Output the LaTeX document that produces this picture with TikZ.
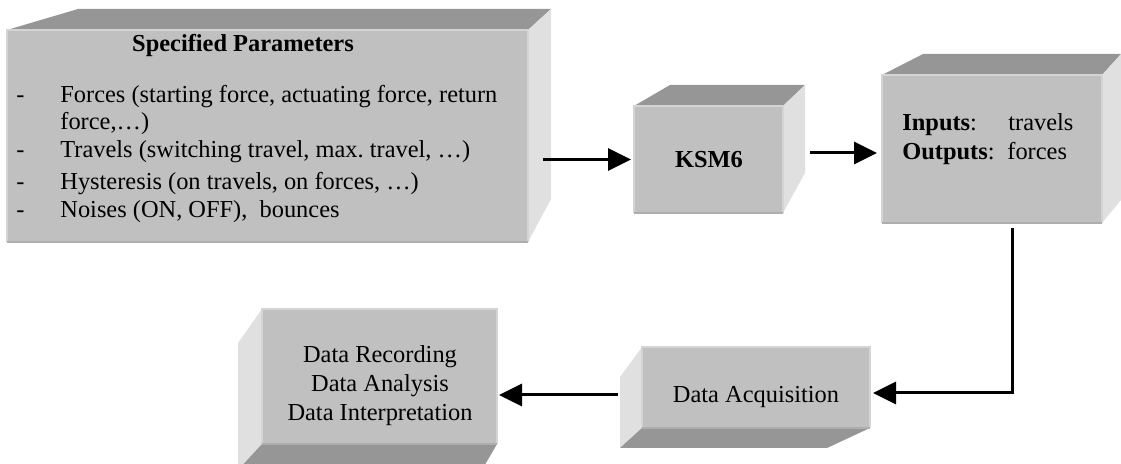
\documentclass[tikz,border=0pt]{standalone}
\usepackage{fontspec}
\setmainfont{Liberation Serif}
\usetikzlibrary{arrows.meta,calc}
\definecolor{frontgray}{RGB}{192,192,192}
\definecolor{topgray}{RGB}{150,150,150}
\definecolor{sidegray}{RGB}{224,224,224}
\definecolor{rimlight}{RGB}{212,212,212}
\definecolor{rimdark}{RGB}{174,174,174}
\newcommand{\boxfont}{\fontsize{12.2}{14.5}\selectfont}

\tikzset{
	front/.style={fill=frontgray,inner sep=0pt,outer sep=0pt,anchor=north west},
	topface/.style={fill=topgray},
	sideface/.style={fill=sidegray},
	rimup/.style={draw=rimlight,line width=0.75pt},
	rimdown/.style={draw=rimdark,line width=0.75pt},
	txt/.style={inner sep=0pt,font=\boxfont},
	bold/.style={inner sep=0pt,font=\boxfont\bfseries},
	conn/.style={line width=1.5pt,-{Triangle[length=11.5pt,width=11pt]}}
}

\begin{document}
\frenchspacing
\begin{tikzpicture}[x=0.5pt,y=-0.5pt]
	\useasboundingbox (0,0) rectangle (1121,464);
	% specified parameters
	\fill[topface] (7,30) -- (78,9) -- (551,9) -- (528,30) -- cycle;
	\fill[sideface] (528,30) -- (551,9) -- (551,199) -- (528,242) -- cycle;
	\node[front,minimum width=260.5pt,minimum height=106pt] (params) at (7,30) {};
	% KSM6
	\fill[topface] (634,106) -- (670,85) -- (805,85) -- (783,106) -- cycle;
	\fill[sideface] (783,106) -- (805,85) -- (805,173) -- (783,213) -- cycle;
	\node[front,minimum width=74.5pt,minimum height=53.5pt] (ksm) at (634,106) {};
	% inputs / outputs
	\fill[topface] (882,75) -- (923,54) -- (1121,54) -- (1102,75) -- cycle;
	\fill[sideface] (1102,75) -- (1121,54) -- (1121,200) -- (1102,223) -- cycle;
	\node[front,minimum width=110pt,minimum height=74pt] (io) at (882,75) {};
	% data acquisition
	\fill[sideface] (642,347) -- (620,377) -- (620,448) -- (642,428) -- cycle;
	\fill[topface] (642,428) -- (620,448) -- (827,448) -- (870,428) -- cycle;
	\node[front,minimum width=114pt,minimum height=40.5pt] (daq) at (642,347) {};
	% data recording
	\fill[sideface] (262,309) -- (238,343) -- (238,470) -- (262,444) -- cycle;
	\fill[topface] (262,444) -- (238,470) -- (482,470) -- (497,444) -- cycle;
	\node[front,minimum width=117.5pt,minimum height=67.5pt] (rec) at (262,309) {};
	% rims
	\foreach \B in {params,ksm,io,daq,rec}
	{\draw[rimup] (\B.south west) -- (\B.north west) -- (\B.north east) -- (\B.south east);
		\draw[rimdown] (\B.south west) -- (\B.south east);}
	% texts
	\node[bold,anchor=base] (title) at (243,52) {Specified Parameters};
	\foreach \ypos/\lbl [count=\i] in {103/{Forces (starting force, actuating force, return},158/{Travels (switching travel, max. travel, …)},190/{Hysteresis (on travels, on forces, …)},218/{Noises (ON, OFF),\ \ bounces}}
	{\node[txt,anchor=base west] (dash-\i) at (16,\ypos) {-};
		\node[txt,anchor=base west] (item-\i) at (60,\ypos) {\lbl};}
	\node[txt,anchor=base west] (item-wrap) at (60,130) {force,…)};
	\node[bold,anchor=base] (ksm-label) at (709,168) {KSM6};
	\node[txt,anchor=base west] (in-key) at (902,131) {\textbf{Inputs}:};
	\node[txt,anchor=base west] (in-val) at (1008,131) {travels};
	\node[txt,anchor=base west] (out-key) at (902,160) {\textbf{Outputs}:};
	\node[txt,anchor=base west] (out-val) at (1007,160) {forces};
	\node[txt,anchor=base] (daq-label) at (756,403) {Data Acquisition};
	\foreach \ypos/\lbl [count=\i] in {363/Data Recording,392/Data Analysis,421/Data Interpretation}
	\node[txt,anchor=base] (rec-\i) at (380,\ypos) {\lbl};
	% connectors
	\draw[conn] ([xshift=7.5pt]params.east |- ksm.west) -- ([xshift=-1.5pt]ksm.west);
	\draw[conn] ([shift={(27,-6.5)}]ksm.east) -- ([shift={(-5,4)}]io.west);
	\draw[conn] ([shift={(20,5)}]io.south) |- ([shift={(3,5.5)}]daq.east);
	\draw[conn] ([shift={(-24,7.5)}]daq.west) -- ([shift={(2,18.5)}]rec.east);
\end{tikzpicture}
\end{document}
